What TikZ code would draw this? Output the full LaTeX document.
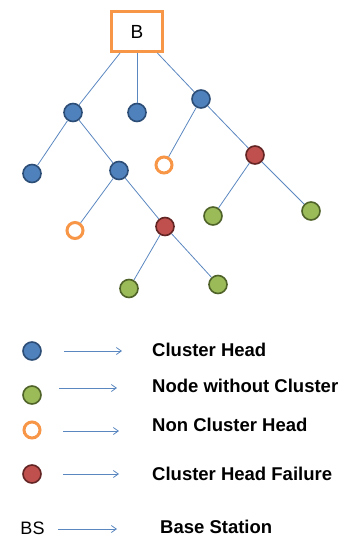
\documentclass[tikz,border=0pt]{standalone}
\usepackage{fontspec}
\setmainfont{Liberation Sans}
\usetikzlibrary{positioning,arrows.meta}

\definecolor{headfill}{HTML}{4F81BD}
\definecolor{headline}{HTML}{2C4D75}
\definecolor{freefill}{HTML}{9BBB59}
\definecolor{freeline}{HTML}{4F6228}
\definecolor{failfill}{HTML}{C0504D}
\definecolor{failline}{HTML}{632523}
\definecolor{bsorange}{HTML}{F79646}
\definecolor{linkblue}{HTML}{5B87C0}

\begin{document}
\begin{tikzpicture}[x=1pt,y=1pt,on grid,
  head/.style={circle,draw=headline,fill=headfill,line width=1.6pt,minimum size=18pt,inner sep=0pt},
  free/.style={circle,draw=freeline,fill=freefill,line width=1.6pt,minimum size=18pt,inner sep=0pt},
  fail/.style={circle,draw=failline,fill=failfill,line width=1.6pt,minimum size=18pt,inner sep=0pt},
  nonhead/.style={circle,draw=bsorange,fill=white,line width=3pt,minimum size=16pt,inner sep=0pt},
  every edge/.append style={draw=linkblue,line width=0.8pt},
  legtext/.style={anchor=base west,inner sep=0pt,font=\fontsize{18.5}{22}\selectfont\bfseries},
  legarrow/.style={draw=linkblue,line width=0.8pt,-{Straight Barb[length=5pt,width=7pt]}}]
\useasboundingbox (0,0) rectangle (344,-538);

\node[draw=bsorange,line width=3pt,minimum width=51pt,minimum height=40pt,font=\fontsize{19}{22}\selectfont](bs) at (137,-31.5){B};

\node[head,below left=81pt and 64pt of bs](h1){};
\node[head,below=81pt of bs](h2){};
\node[head,below right=67.5pt and 64pt of bs](h3){};
\node[head,below left=61pt and 41pt of h1](h4){};
\node[head,below right=58pt and 46pt of h1](h5){};
\node[nonhead,below left=66pt and 37pt of h3](n1){};
\node[fail,below right=56pt and 54pt of h3](f1){};
\node[nonhead,below left=60pt and 44pt of h5](n2){};
\node[fail,below right=56pt and 46pt of h5](f2){};
\node[free,below left=61pt and 42pt of f1](g1){};
\node[free,below right=56pt and 56pt of f1](g2){};
\node[free,below left=62pt and 36pt of f2](g3){};
\node[free,below right=58pt and 53pt of f2](g4){};

\path (bs) edge (h1);
\path (bs) edge (h2);
\path (bs) edge (h3);
\path (h1) edge (h4);
\path (h1) edge (h5);
\path (h3) edge (n1);
\path (h3) edge (f1);
\path (h5) edge (n2);
\path (h5) edge (f2);
\path (f1) edge (g1);
\path (f1) edge (g2);
\path (f2) edge (g3);
\path (f2) edge (g4);

% legend
\node[head](lh) at (32,-351){};
\node[free](lf) at (32,-395){};
\node[nonhead](ln) at (32,-430){};
\node[fail](lx) at (32,-474){};
\node[anchor=base,inner sep=0pt,font=\fontsize{18}{22}\selectfont](lbs) at (32.5,-534){BS};

\coordinate (a1) at (64,-351);  \coordinate (b1) at (122,-351);
\coordinate (a2) at (59,-388);  \coordinate (b2) at (117,-388);
\coordinate (a3) at (63,-431);  \coordinate (b3) at (119,-431);
\coordinate (a4) at (63,-474);  \coordinate (b4) at (119,-474);
\coordinate (a5) at (58,-529);  \coordinate (b5) at (117,-529);
\draw[legarrow] (a1) -- (b1);
\draw[legarrow] (a2) -- (b2);
\draw[legarrow] (a3) -- (b3);
\draw[legarrow] (a4) -- (b4);
\draw[legarrow] (a5) -- (b5);

\node[legtext](t1) at (152,-356){Cluster Head};
\node[legtext](t2) at (152,-392.5){Node without Cluster};
\node[legtext](t3) at (152,-431.5){Non Cluster Head};
\node[legtext](t4) at (152,-480){Cluster Head Failure};
\node[legtext](t5) at (160,-533){Base Station};

\end{tikzpicture}
\end{document}
